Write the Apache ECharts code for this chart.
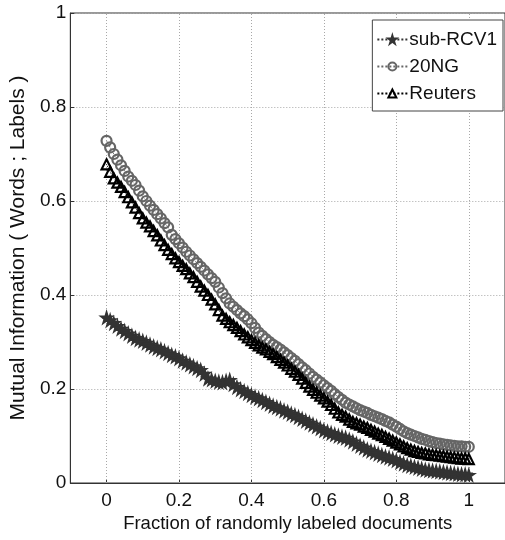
<!DOCTYPE html>
<html>
<head>
<meta charset="utf-8">
<script src="https://cdn.jsdelivr.net/npm/echarts@6/dist/echarts.min.js"></script>
<style>html,body{margin:0;padding:0;background:#fff;}#c{width:505px;height:540px;}</style>
</head>
<body>
<div id="c"></div>
<script>
const xValues = [0.00,0.01,0.02,0.03,0.04,0.05,0.06,0.07,0.08,0.09,0.10,0.11,0.12,0.13,0.14,0.15,0.16,0.17,0.18,0.19,0.20,0.21,0.22,0.23,0.24,0.25,0.26,0.27,0.28,0.29,0.30,0.31,0.32,0.33,0.34,0.35,0.36,0.37,0.38,0.39,0.40,0.41,0.42,0.43,0.44,0.45,0.46,0.47,0.48,0.49,0.50,0.51,0.52,0.53,0.54,0.55,0.56,0.57,0.58,0.59,0.60,0.61,0.62,0.63,0.64,0.65,0.66,0.67,0.68,0.69,0.70,0.71,0.72,0.73,0.74,0.75,0.76,0.77,0.78,0.79,0.80,0.81,0.82,0.83,0.84,0.85,0.86,0.87,0.88,0.89,0.90,0.91,0.92,0.93,0.94,0.95,0.96,0.97,0.98,0.99,1.00];
const subRCV1 = [0.352,0.346,0.340,0.334,0.328,0.323,0.318,0.313,0.308,0.305,0.302,0.298,0.294,0.290,0.287,0.284,0.280,0.276,0.272,0.269,0.265,0.260,0.256,0.252,0.248,0.244,0.240,0.232,0.222,0.220,0.217,0.215,0.214,0.217,0.219,0.210,0.204,0.199,0.195,0.191,0.187,0.183,0.180,0.176,0.172,0.168,0.164,0.161,0.158,0.154,0.151,0.147,0.144,0.140,0.136,0.132,0.128,0.124,0.120,0.116,0.112,0.109,0.106,0.103,0.100,0.098,0.096,0.092,0.088,0.083,0.079,0.075,0.071,0.068,0.065,0.062,0.059,0.056,0.054,0.051,0.048,0.044,0.041,0.038,0.036,0.034,0.032,0.030,0.028,0.027,0.026,0.025,0.024,0.023,0.022,0.021,0.020,0.019,0.018,0.018,0.017];
const ng20 = [0.728,0.714,0.700,0.688,0.676,0.664,0.652,0.643,0.634,0.622,0.610,0.600,0.590,0.581,0.572,0.563,0.553,0.544,0.528,0.519,0.510,0.501,0.492,0.484,0.476,0.468,0.460,0.452,0.444,0.436,0.428,0.416,0.404,0.393,0.382,0.375,0.368,0.361,0.355,0.348,0.340,0.330,0.320,0.313,0.306,0.300,0.294,0.289,0.284,0.278,0.272,0.266,0.260,0.253,0.246,0.240,0.233,0.226,0.220,0.214,0.208,0.202,0.196,0.189,0.183,0.177,0.171,0.167,0.163,0.159,0.155,0.152,0.149,0.145,0.142,0.139,0.136,0.132,0.129,0.124,0.120,0.115,0.110,0.106,0.103,0.100,0.097,0.094,0.092,0.089,0.087,0.085,0.084,0.082,0.081,0.080,0.079,0.078,0.078,0.077,0.077];
const reuters = [0.678,0.662,0.648,0.639,0.630,0.619,0.608,0.597,0.586,0.574,0.563,0.554,0.546,0.536,0.527,0.516,0.506,0.496,0.487,0.478,0.470,0.462,0.455,0.446,0.438,0.428,0.418,0.409,0.400,0.390,0.380,0.368,0.356,0.349,0.342,0.336,0.330,0.323,0.316,0.310,0.304,0.298,0.293,0.288,0.284,0.279,0.274,0.268,0.262,0.256,0.250,0.243,0.237,0.230,0.222,0.213,0.205,0.198,0.192,0.186,0.180,0.173,0.166,0.158,0.150,0.145,0.141,0.135,0.130,0.127,0.124,0.120,0.117,0.113,0.109,0.105,0.102,0.098,0.094,0.090,0.086,0.082,0.078,0.074,0.071,0.068,0.066,0.064,0.063,0.061,0.060,0.059,0.058,0.057,0.056,0.055,0.054,0.053,0.052,0.052,0.051];
const xTicks = [0, 0.2, 0.4, 0.6, 0.8, 1];
const seriesNames = ['sub-RCV1', '20NG', 'Reuters'];
const xTitle = 'Fraction of randomly labeled documents';
const yTitle = 'Mutual Information ( Words ; Labels )';

const FONT = '"Liberation Sans", Arial, sans-serif';
const star = 'path://M50,0 L61,35 L98,35 L68,57 L79,91 L50,70 L21,91 L32,57 L2,35 L39,35 Z';
const pair = arr => xValues.map((x, i) => [x, arr[i]]);
const gridLine = {color: '#a8a8a8', type: [1, 2], width: 1};

const chart = echarts.init(document.getElementById('c'), null, {renderer: 'canvas'});
chart.setOption({
  animation: false,
  backgroundColor: '#fff',
  grid: {left: 60, top: 13, right: -2, bottom: 57, show: true, borderColor: '#333', borderWidth: 1, backgroundColor: 'transparent'},
  legend: {
    right: 2, top: 20, orient: 'vertical',
    backgroundColor: '#fff', borderColor: '#444', borderWidth: 1,
    padding: [10, 6, 8, 4], itemGap: 8, itemWidth: 30, itemHeight: 10,
    textStyle: {fontFamily: FONT, fontSize: 19, color: '#111', padding: [0, 0, 0, -3]},
    data: seriesNames
  },
  xAxis: {
    type: 'value', min: -0.1, max: 1.1,
    name: xTitle, nameLocation: 'middle', nameGap: 31,
    nameTextStyle: {fontFamily: FONT, fontSize: 18.5, color: '#111'},
    axisLine: {show: true, onZero: false, lineStyle: {color: '#333'}},
    axisTick: {show: true, inside: true, length: 4, customValues: xTicks, lineStyle: {color: '#333'}},
    axisLabel: {customValues: xTicks, fontFamily: FONT, fontSize: 19, color: '#111', margin: 8},
    splitLine: {show: false}
  },
  yAxis: {
    type: 'value', min: 0, max: 1, interval: 0.2,
    name: yTitle, nameLocation: 'middle', nameGap: 30,
    nameTextStyle: {fontFamily: FONT, fontSize: 21, color: '#111'},
    axisLine: {show: true, onZero: false, lineStyle: {color: '#333'}},
    axisTick: {show: true, inside: true, length: 4, lineStyle: {color: '#333'}},
    axisLabel: {fontFamily: FONT, fontSize: 19, color: '#111', margin: 4},
    splitLine: {show: true, lineStyle: gridLine}
  },
  series: [
    {name: seriesNames[0], type: 'line', data: pair(subRCV1), symbol: star, symbolSize: 12,
     itemStyle: {color: '#333', borderColor: '#333', borderWidth: 1.5},
     lineStyle: {color: '#333', type: 'dotted', width: 1}, z: 2,
     markLine: {silent: true, symbol: 'none', label: {show: false}, lineStyle: gridLine, z: 1,
       data: xTicks.map(v => ({xAxis: v}))}},
    {name: seriesNames[1], type: 'line', data: pair(ng20), symbol: 'circle', symbolSize: 10,
     itemStyle: {color: 'rgba(255,255,255,0)', borderColor: '#666', borderWidth: 2.2},
     lineStyle: {color: '#666', type: 'dotted', width: 1}, z: 3},
    {name: seriesNames[2], type: 'line', data: pair(reuters), symbol: 'triangle', symbolSize: 10,
     itemStyle: {color: 'rgba(255,255,255,0)', borderColor: '#000', borderWidth: 2.2},
     lineStyle: {color: '#000', type: 'dotted', width: 1}, z: 4}
  ]
});
</script>
</body>
</html>
